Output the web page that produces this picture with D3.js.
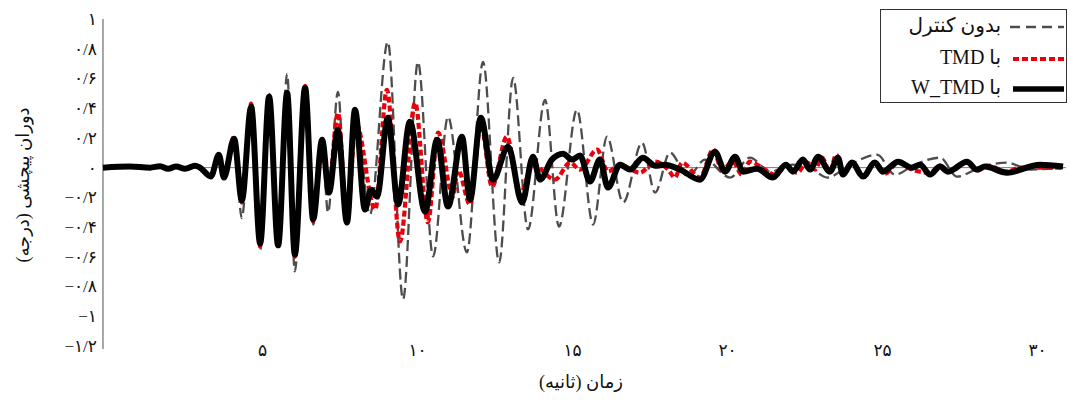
<!DOCTYPE html>
<html><head><meta charset="utf-8">
<script src="https://cdn.jsdelivr.net/npm/d3@7"></script>
<style>
html,body{margin:0;padding:0;background:#fff;}
svg{display:block;}
text{font-family:"Liberation Serif","DejaVu Serif","DejaVu Sans",serif;fill:#111;}
</style></head>
<body>
<svg id="chart" width="1070" height="400"></svg>
<script>
// ---- data (time in seconds, torsional rotation in degrees) ----
const noControl = [[-0.13,0],[0.74,0.007],[1.39,0],[1.71,0.01],[1.97,-0.007],[2.23,0.007],[2.52,-0.007],[2.84,0.013],[3.00,0],
 [3.35,-0.06],[3.61,0.087],[3.77,-0.067],[4.10,0.2],[4.35,-0.34],[4.65,0.423],[4.94,-0.557],[5.23,0.48],[5.52,-0.523],
 [5.81,0.631],[6.06,-0.698],[6.39,0.557],[6.65,-0.383],[6.94,0.154],[7.13,-0.302],[7.45,0.51],[7.74,-0.383],[8.03,0.356],
 [8.48,-0.315],[9.06,0.846],[9.55,-0.886],[10.03,0.711],[10.52,-0.597],[11.00,0.342],[11.61,-0.57],[12.13,0.711],[12.65,-0.638],
 [13.10,0.604],[13.58,-0.416],[14.13,0.456],[14.58,-0.396],[15.16,0.389],[15.68,-0.383],[16.13,0.208],[16.65,-0.235],
 [17.26,0.168],[17.68,-0.168],[18.16,0.101],[18.74,-0.06],[19.29,0.054],[20.10,-0.067],[20.74,0.067],[21.39,-0.027],
 [22.13,0.02],[22.68,0],[23.23,-0.067],[23.97,0.02],[24.84,0.087],[25.42,-0.047],[26.06,0.02],[26.87,0.067],[27.42,-0.06],
 [28.16,0],[29.03,0.034],[29.77,-0.013],[30.84,0]];

const withTMD = [[-0.13,0],[0.74,0.007],[1.39,0],[1.71,0.01],[1.97,-0.007],[2.23,0.007],[2.52,-0.007],[2.84,0.013],[3.00,0],
 [3.35,-0.06],[3.61,0.09],[3.77,-0.07],[4.10,0.208],[4.35,-0.235],[4.65,0.43],[4.94,-0.53],[5.23,0.49],[5.52,-0.53],
 [5.81,0.51],[6.06,-0.6],[6.39,0.55],[6.65,-0.36],[6.94,0.19],[7.13,-0.17],[7.45,0.369],[7.74,-0.36],[8.03,0.3],
 [8.65,-0.282],[9.03,0.523],[9.45,-0.497],[9.94,0.436],[10.35,-0.369],[10.68,0.235],[11.16,-0.195],[11.32,-0.013],
 [11.71,-0.248],[12.06,0.289],[12.42,-0.128],[12.90,0.208],[13.32,-0.181],[13.74,0.02],[14.45,-0.081],[14.94,0.034],
 [15.26,-0.013],[15.81,0.121],[16.16,-0.027],[16.55,0.02],[17.19,-0.034],[17.68,0.04],[18.10,-0.013],[18.32,-0.067],
 [18.55,0.034],[19.13,-0.067],[19.55,0.121],[19.84,-0.013],[20.19,0.04],[20.48,-0.047],[20.74,0.04],[21.13,0],
 [21.55,-0.047],[21.94,0.013],[22.26,-0.034],[22.58,0.034],[22.84,-0.013],[23.06,0.067],[23.32,-0.027],[23.52,0.087],
 [23.74,-0.04],[24.03,0.02],[24.39,-0.054],[24.77,0.027],[25.10,-0.04],[25.52,0.034],[25.97,-0.013],[26.55,-0.034],
 [26.87,0.013],[27.19,-0.027],[27.74,0.034],[28.06,-0.02],[28.42,0.013],[29.03,-0.027],[29.45,0],[30.10,0],[30.84,0]];

const withWTMD = [[-0.13,0],[0.74,0.007],[1.39,0],[1.71,0.01],[1.97,-0.007],[2.23,0.007],[2.52,-0.007],[2.84,0.013],[3.00,0],
 [3.35,-0.06],[3.61,0.087],[3.77,-0.067],[4.10,0.195],[4.35,-0.22],[4.65,0.41],[4.94,-0.51],[5.23,0.477],[5.52,-0.523],
 [5.81,0.503],[6.06,-0.584],[6.39,0.537],[6.65,-0.349],[6.94,0.188],[7.16,-0.168],[7.45,0.255],[7.74,-0.369],[8.00,0.389],
 [8.32,-0.282],[8.52,-0.148],[8.71,-0.195],[9.06,0.336],[9.39,-0.248],[9.77,0.309],[10.26,-0.295],[10.65,0.188],
 [11.00,-0.262],[11.45,0.208],[11.71,-0.215],[12.06,0.336],[12.45,-0.081],[12.94,0.141],[13.39,-0.235],[13.74,0.074],
 [13.97,-0.081],[14.35,0.054],[14.71,0.094],[15.00,0.054],[15.26,0.081],[15.58,-0.094],[15.90,0.054],[16.16,-0.134],
 [16.55,0.02],[16.87,-0.013],[17.29,0.067],[17.68,0.013],[18.00,0.02],[18.48,-0.013],[19.13,-0.081],[19.61,0.107],
 [19.94,-0.027],[20.26,0.074],[20.52,-0.027],[20.97,-0.007],[21.48,-0.067],[21.90,0.02],[22.13,-0.027],[22.45,0.054],
 [22.68,-0.013],[22.94,0.074],[23.32,-0.027],[23.58,0.067],[23.74,-0.047],[24.03,0.034],[24.39,-0.06],[24.77,0.034],
 [25.03,-0.027],[25.52,0.04],[25.97,0],[26.23,0.02],[26.55,-0.047],[26.87,0.007],[27.13,-0.027],[27.74,0.04],
 [28.06,-0.013],[28.32,0.007],[29.03,-0.034],[30.10,0.02],[30.84,0.007]];

const xTicks = [5,10,15,20,25,30];
const xTickLabels = ["۵","۱۰","۱۵","۲۰","۲۵","۳۰"];
const yTicks = [-1.2,-1,-0.8,-0.6,-0.4,-0.2,0,0.2,0.4,0.6,0.8,1];
const yTickLabels = ["−۱/۲","−۱","−۰/۸","−۰/۶","−۰/۴","−۰/۲","۰","۰/۲","۰/۴","۰/۶","۰/۸","۱"];
const seriesNames = ["بدون کنترل","با TMD","با W_TMD"];
const xTitle = "زمان (ثانیه)";
const yTitle = "دوران پیچشی (درجه)";

// ---- drawing ----
const svg = d3.select("#chart");
const x = d3.scaleLinear().domain([0,31]).range([107,1068]);
const y = d3.scaleLinear().domain([-1.2,1]).range([346,19]);
const axisX = x(-0.13);

// zero line
svg.append("line").attr("x1",axisX).attr("x2",1066).attr("y1",y(0)).attr("y2",y(0))
  .attr("stroke","#7a7a7a").attr("stroke-width",1);

// y axis
const gy = svg.append("g").attr("transform",`translate(${axisX},0)`)
  .call(d3.axisLeft(y).tickValues(yTicks).tickSize(0).tickPadding(6)
    .tickFormat((d,i)=>yTickLabels[i]));
gy.select(".domain").attr("d",`M0,${y(1)}V${y(-1.2)+3}`).attr("stroke","#8a8a8a").attr("stroke-width",1.5);
gy.selectAll("text").attr("font-size",17).attr("font-family","'DejaVu Sans',sans-serif").attr("fill","#111");

// x axis (labels only)
const gx = svg.append("g").attr("transform",`translate(0,${y(-1.2)})`)
  .call(d3.axisBottom(x).tickValues(xTicks).tickSize(0).tickPadding(0)
    .tickFormat((d,i)=>xTickLabels[i]));
gx.select(".domain").remove();
gx.selectAll("text").attr("font-size",17).attr("font-family","'DejaVu Sans',sans-serif").attr("fill","#111")
  .attr("dy","0.32em").attr("y",5);

const line = d3.line().x(d=>x(d[0])).y(d=>y(d[1])).curve(d3.curveMonotoneX);

svg.append("path").datum(noControl).attr("d",line).attr("fill","none")
  .attr("stroke","#4d4d4d").attr("stroke-width",2.3).attr("stroke-dasharray","11,5");
svg.append("path").datum(withTMD).attr("d",line).attr("fill","none")
  .attr("stroke","#e8000b").attr("stroke-width",4.2).attr("stroke-dasharray","6,3");
svg.append("path").datum(withWTMD).attr("d",line).attr("fill","none")
  .attr("stroke","#000").attr("stroke-width",6).attr("stroke-linejoin","round");

// axis titles
svg.append("text").attr("x",581).attr("y",384).attr("text-anchor","middle")
  .attr("dominant-baseline","middle").attr("font-size",18).style("direction","rtl")
  .style("unicode-bidi","embed").text(xTitle);
svg.append("text").attr("transform","translate(25,185) rotate(-90)").attr("text-anchor","middle")
  .attr("dominant-baseline","middle").attr("font-size",18).style("direction","rtl")
  .style("unicode-bidi","embed").text(yTitle);

// legend
const lg = svg.append("g");
lg.append("rect").attr("x",880.5).attr("y",9.5).attr("width",186).attr("height",93)
  .attr("fill","#fff").attr("stroke","#333").attr("stroke-width",1);
const legendRows = [
  {name:seriesNames[0], y:27, stroke:"#4d4d4d", w:2.4, dash:"10,6", x1:1010},
  {name:seriesNames[1], y:59, stroke:"#e8000b", w:4, dash:"6,3", x1:1013},
  {name:seriesNames[2], y:89, stroke:"#000", w:5.5, dash:null, x1:1013}
];
legendRows.forEach(r=>{
  const l = lg.append("line").attr("x1",r.x1).attr("x2",1064).attr("y1",r.y).attr("y2",r.y)
    .attr("stroke",r.stroke).attr("stroke-width",r.w);
  if(r.dash) l.attr("stroke-dasharray",r.dash);
  lg.append("text").attr("x",1001).attr("y",r.y).attr("dominant-baseline","middle")
    .attr("text-anchor","start").style("direction","rtl").style("unicode-bidi","embed")
    .attr("font-size",20).text(r.name);
});
</script>
</body></html>
